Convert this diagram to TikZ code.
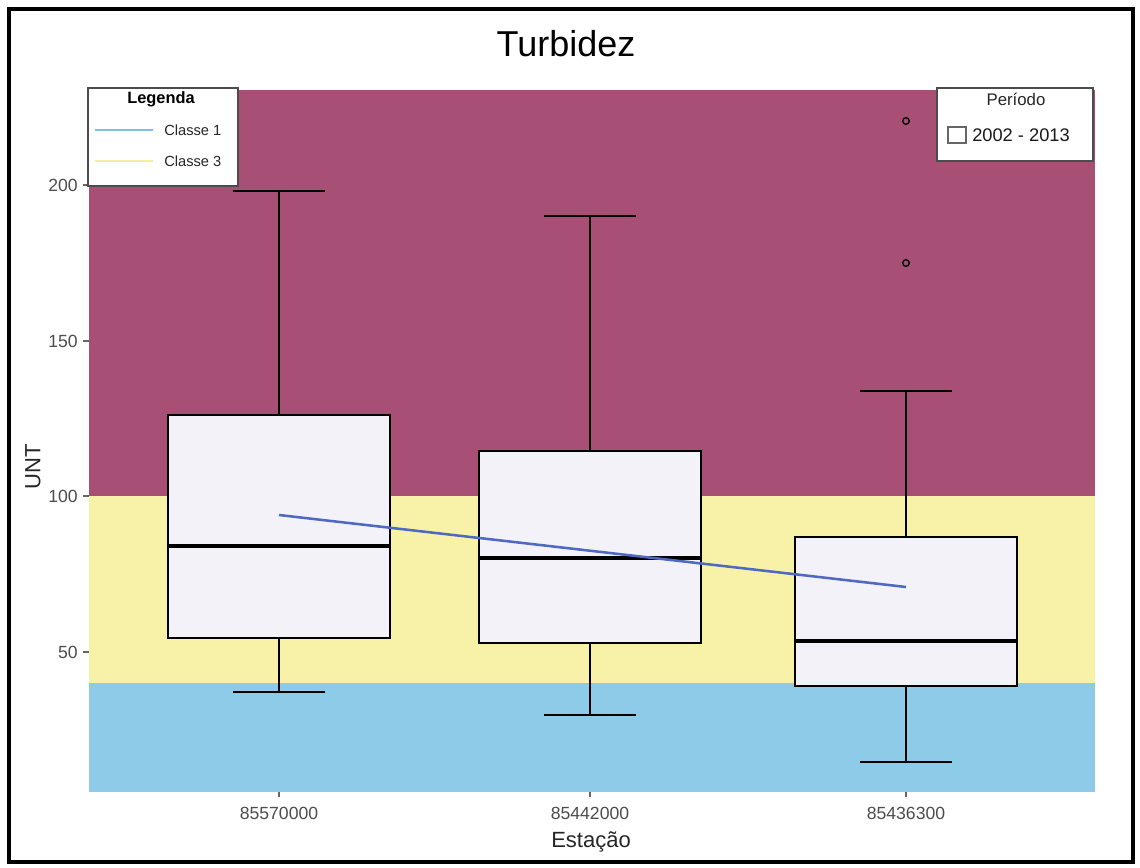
\documentclass[tikz,border=0pt]{standalone}
\usepackage{fontspec}
\setmainfont{Liberation Sans}
\definecolor{zonehigh}{HTML}{A84F76}
\definecolor{zonemid}{HTML}{F8F2A8}
\definecolor{zonelow}{HTML}{8ECBE8}
\definecolor{boxfill}{HTML}{F3F2F8}
\definecolor{trendblue}{HTML}{4F68C2}
\definecolor{ticktext}{HTML}{4D4D4D}
\definecolor{legblue}{HTML}{7FBFE6}
\definecolor{legyellow}{HTML}{F4EFA0}
\tikzset{
  ticklabel/.style={font=\fontsize{13.2}{15}\selectfont, text=ticktext, inner sep=0pt},
  axistitle/.style={font=\fontsize{16.5}{19}\selectfont, text=black!85, inner sep=0pt},
  tickmark/.style={draw=black!60, line width=0.8pt},
  boxline/.style={draw=black, line width=1.4pt},
  medianline/.style={draw=black, line width=2.8pt},
  legendbox/.style={draw=black!70, fill=white, line width=0.9pt},
  legtext/.style={font=\fontsize{11}{13}\selectfont, text=black!85, inner sep=0pt},
  outlier/.style={draw=black, line width=1pt},
}
% one box plot: centre x, lower whisker, q1, median, q3, upper whisker (all in px)
\newcommand\statbox[7]{%
  \draw[boxline] (#1-46,#2) -- (#1+46,#2);
  \draw[boxline] (#1,#2) -- (#1,#3);
  \draw[boxline] (#1-46,#6) -- (#1+46,#6);
  \draw[boxline] (#1,#6) -- (#1,#5);
  \draw[boxline, fill=boxfill] (#1-111,#3) rectangle node[coordinate] (#7) {} (#1+111,#5);
  \draw[medianline] (#1-111,#4) -- (#1+111,#4);
}
\begin{document}
\begin{tikzpicture}[x=0.75pt, y=-0.75pt]
\useasboundingbox (0,0) rectangle (1140,868);
\fill[white] (0,0) rectangle (1140,868);

% classification zones
\fill[zonehigh] (89,90) rectangle (1095,496);
\fill[zonemid] (89,496) rectangle (1095,683);
\fill[zonelow] (89,683) rectangle (1095,792);

% y axis ticks and labels
\foreach \yy/\lab in {185/200, 341/150, 496/100, 652/50} {
  \draw[tickmark] (83,\yy) -- (89,\yy);
  \node[ticklabel, anchor=east] (y\lab) at (78,\yy) {\lab};
}
% x axis ticks and labels
\foreach \xx/\lab in {279/85570000, 590/85442000, 906/85436300} {
  \draw[tickmark] (\xx,792) -- (\xx,797);
  \node[ticklabel] (x\lab) at (\xx,813) {\lab};
}

% box plots per station
\statbox{279}{692}{638}{546}{415}{191}{b1}
\statbox{590}{715}{643}{558}{451}{216}{b2}
\statbox{906}{762}{686}{641}{537}{391}{b3}

% outliers
\draw[outlier] (906,263) circle (3.3);
\draw[outlier] (906,121) circle (3.3);

% trend line
\coordinate (t1) at (279,515);
\coordinate (t3) at (906,587);
\draw[trendblue, line width=1.9pt] (t1) -- (t3);

% titles
\node[font=\fontsize{27}{30}\selectfont, inner sep=0pt] (title) at (566,44) {Turbidez};
\node[axistitle] (xtitle) at (591,842) {Estação};
\node[axistitle, rotate=90] (ytitle) at (33,467) {UNT};

% legend: classes
\draw[legendbox] (88,88) rectangle (238,186);
\node[font=\bfseries\fontsize{12.3}{14}\selectfont, inner sep=0pt] (legtitle) at (161,99) {Legenda};
\draw[legblue, line width=1.7pt] (95,130) -- (153,130);
\node[legtext, anchor=west] (leg1) at (164,130) {Classe 1};
\draw[legyellow, line width=1.7pt] (95,161) -- (153,161);
\node[legtext, anchor=west] (leg3) at (164,161) {Classe 3};

% legend: period
\draw[legendbox] (937,88) rectangle (1093,161);
\node[font=\fontsize{12.6}{14}\selectfont, inner sep=0pt, text=black!85] (pertitle) at (1016,99) {Período};
\draw[black!60, line width=1pt, fill=white] (948,127) rectangle (966,143);
\node[font=\fontsize{13.7}{16}\selectfont, inner sep=0pt, anchor=west, text=black!90] (period) at (972,135) {2002 - 2013};

% outer frame
\draw[line width=2.4pt] (9,9) rectangle (1133,862);
\end{tikzpicture}
\end{document}
